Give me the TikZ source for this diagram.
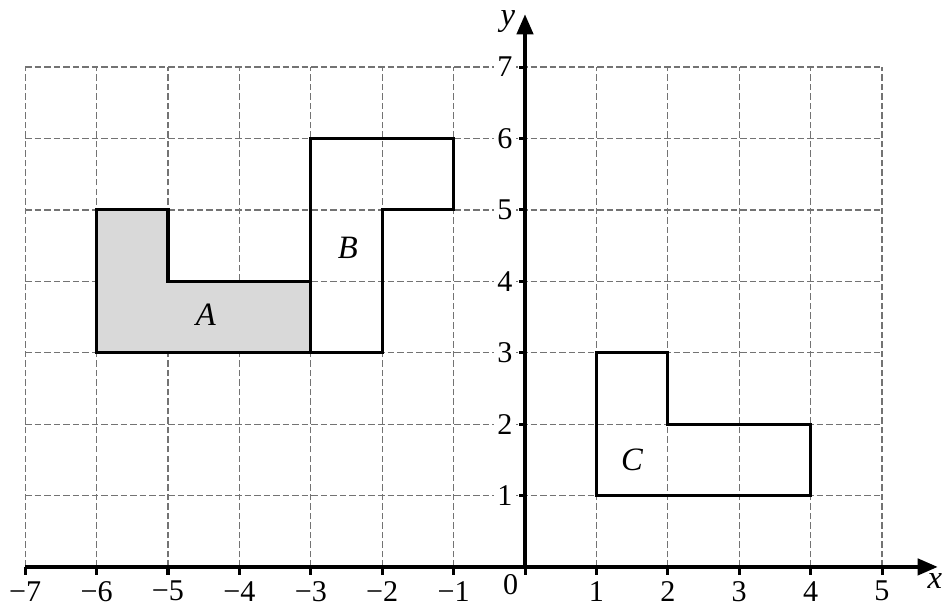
\documentclass[tikz,border=0pt]{standalone}
\usepackage{fontspec}
\setmainfont{Liberation Serif}
\newfontfamily\tms{Liberation Serif}
\usetikzlibrary{arrows.meta}

\begin{document}
\begin{tikzpicture}[every node/.style={font=\tms\fontsize{12}{14}\selectfont}, gridline/.style={black!55, line width=0.5pt, dash pattern=on 2.6pt off 1.2pt}, outline/.style={draw, line width=1.25pt, line join=miter}, axis/.style={line width=1.4pt, -{Triangle[length=8pt,width=6.5pt]}}, tick/.style={line width=1.2pt}, tag/.style={font=\tms\fontsize{13}{15}\selectfont\itshape}]
	\useasboundingbox (-7.353,-0.602) rectangle (5.882,7.94);
	\foreach \x in {-7,...,5} {\draw[gridline] (\x,0) -- (\x,7);}
	\foreach \y in {1,...,7} {\draw[gridline] (-7,\y) -- (5,\y);}
	\draw[outline, fill=black!15] (-6,3) -- (-6,5) -- (-5,5) -- (-5,4) -- (-3,4) -- (-3,3) -- cycle;
	\draw[outline] (-3,3) -- (-3,6) -- (-1,6) -- (-1,5) -- (-2,5) -- (-2,3) -- cycle;
	\draw[outline] (1,1) -- (1,3) -- (2,3) -- (2,2) -- (4,2) -- (4,1) -- cycle;
	\coordinate (O) at (0,0); \coordinate (xstart) at (-7,0); \coordinate (xend) at (5.78,0); \coordinate (yend) at (0,7.74);
	\draw[axis] (xstart) -- (xend);
	\draw[axis] (O) -- (yend);
	\foreach \x in {-7,...,5} {\draw[tick] (\x,0) -- (\x,-0.11);}
	\foreach \y in {1,...,7} {\draw[tick] (0,\y) -- (-0.09,\y);}
	\foreach \x in {1,...,7} {\node (xm\x) at (-\x,-0.34) {−\x};}
	\foreach \x in {1,...,5} {\node (xp\x) at (\x,-0.34) {\x};}
	\foreach \y in {1,...,7} {\node[fill=white, inner sep=1.5pt] (yl\y) at (-0.28,\y) {\y};}
	\node (zero) at (-0.2,-0.25) {0};
	\node[tag] (xlab) at (5.74,-0.2) {x}; \node[tag, inner sep=1pt] (ylab) at (-0.24,7.64) {y};
	\node[tag] (A) at (-4.47,3.53) {A}; \node[tag] (B) at (-2.48,4.47) {B}; \node[tag] (C) at (1.5,1.5) {C};
\end{tikzpicture}
\end{document}
